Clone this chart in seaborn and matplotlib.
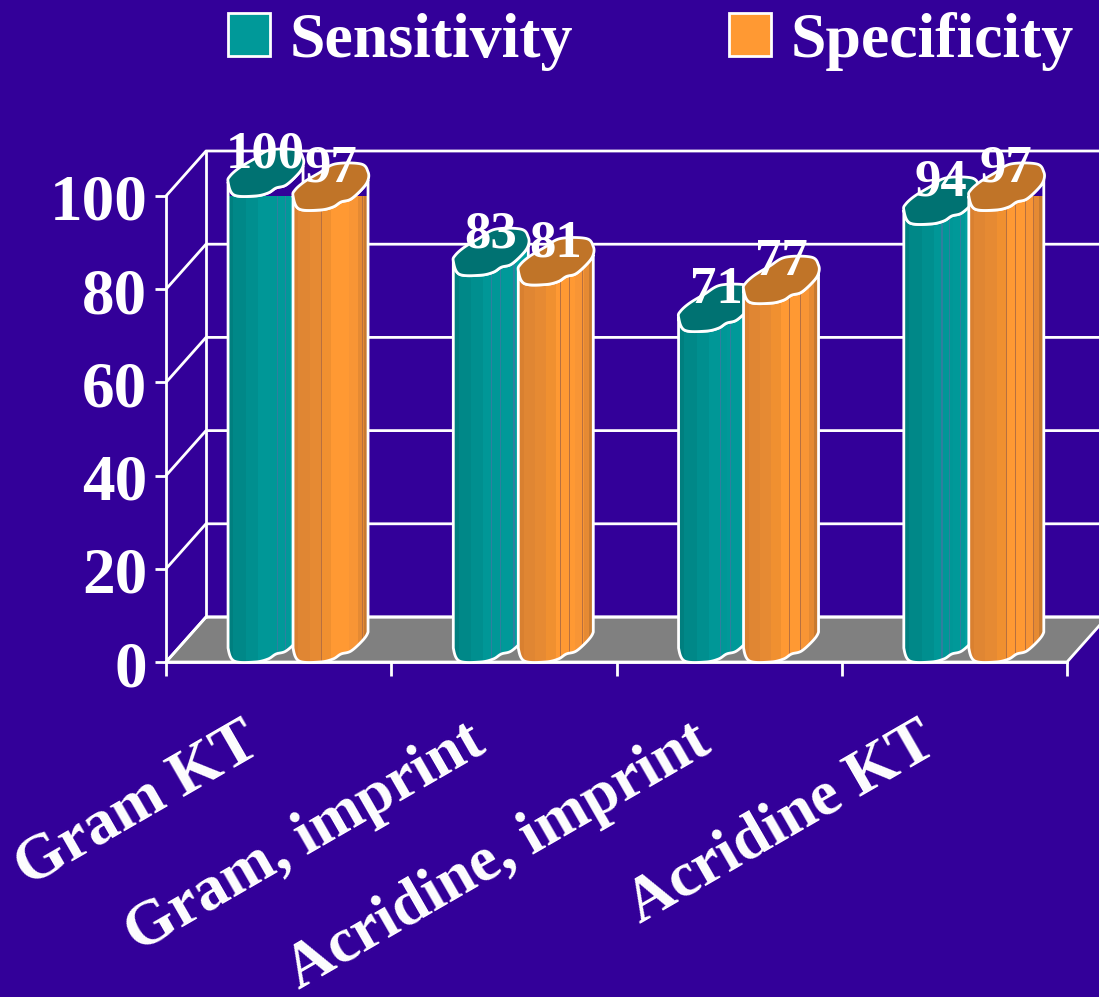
import numpy as np
import pandas as pd
import matplotlib
matplotlib.use("Agg")
import matplotlib.pyplot as plt
import seaborn as sns
from matplotlib.patches import Patch, PathPatch, Polygon, Rectangle
from matplotlib.path import Path
from matplotlib.transforms import Affine2D, IdentityTransform

categories = ["Gram KT", "Gram, imprint", "Acridine, imprint", "Acridine KT"]
sensitivity = [100, 83, 71, 94]
specificity = [97, 81, 77, 97]
y_ticks = [0, 20, 40, 60, 80, 100]

BG = "#330099"
TEAL, ORANGE = "#009999", "#FF9933"
TEAL_CAP, ORANGE_CAP = "#007272", "#C07428"
FLOOR = "#808080"
LW = 2.0

# Vertical shading of each column: (right edge as a width fraction, colour)
teal_bands = [(0.07, "#007F7F"), (0.24, "#008888"), (0.40, "#008F8F"),
              (0.65, "#009797"), (0.82, "#009999"), (1.0, "#00A0A0")]
orange_bands = [(0.07, "#D98030"), (0.22, "#E08633"), (0.37, "#E68A33"),
                (0.50, "#F09030"), (0.75, "#FF9933"), (0.87, "#F89535"),
                (0.94, "#E58A33"), (1.0, "#C87A30")]
teal_seams = [[0.65, 0.76], [0.5, 0.62, 0.8], [0.55, 0.68], [0.5, 0.6, 0.75]]
orange_seams = [[0.37, 0.92], [0.55, 0.68, 0.85], [0.6, 0.75], [0.49, 0.61, 0.75, 0.85]]

# Irregular outline of a column's top, in pixels from its front-left base point
CAP = np.array([(0, 14), (6, 1), (27, 0), (40, 3), (48, 8), (58, 11), (70, 22), (75, 30),
                (75, 38), (68, 46), (42, 46), (26, 37), (11, 28), (2, 20)], float)
FRONT_SEGMENTS = 7
COLUMN_W = 75
SAMPLES = 10


def smooth_closed(points):
    p = points
    n = len(p)
    out = []
    for i in range(n):
        p0, p1, p2, p3 = p[(i - 1) % n], p[i], p[(i + 1) % n], p[(i + 2) % n]
        for t in np.linspace(0, 1, SAMPLES, endpoint=False):
            out.append(0.5 * (2 * p1 + (p2 - p0) * t + (2 * p0 - 5 * p1 + 4 * p2 - p3) * t ** 2
                              + (3 * p1 - p0 - 3 * p2 + p3) * t ** 3))
    return np.array(out)


CAP_SMOOTH = smooth_closed(CAP)
CAP_FRONT = CAP_SMOOTH[:FRONT_SEGMENTS * SAMPLES + 1]

sns.set_theme(style="white")
plt.rcParams["font.family"] = ["Liberation Serif", "DejaVu Serif"]
plt.rcParams["font.weight"] = "bold"

W, H = 1099, 997
fig = plt.figure(figsize=(W / 100, H / 100), dpi=100, facecolor=BG)
ax = fig.add_axes([166 / W, (H - 662) / H, (1067 - 166) / W, 466 / H])
ax.patch.set_visible(False)

df = pd.DataFrame({
    "category": categories * 2,
    "value": sensitivity + specificity,
    "measure": ["Sensitivity"] * 4 + ["Specificity"] * 4,
})
sns.barplot(data=df, x="category", y="value", hue="measure", order=categories,
            hue_order=["Sensitivity", "Specificity"], palette=[TEAL, ORANGE],
            saturation=1, width=0.577, gap=0, legend=False, ax=ax)

ax.set_xlim(-0.564, 3.436)
ax.set_ylim(0, 100)
ax.set_xlabel("")
ax.set_ylabel("")

# Chart frame: back wall and floor sit at a fixed depth behind the front plane
DEPTH = (40, 45)
back = ax.transData + Affine2D().translate(*DEPTH)
x0, x1 = ax.get_xlim()
floor_px = [ax.transData.transform((x0, 0)), ax.transData.transform((x1, 0)),
            back.transform((x1, 0)), back.transform((x0, 0))]
ax.add_patch(Polygon(floor_px, closed=True, transform=IdentityTransform(), facecolor=FLOOR,
                     edgecolor="white", lw=LW, clip_on=False, zorder=0.5))
for v in y_ticks:
    front_pt = ax.transData.transform((x0, v))
    back_l = back.transform((x0, v))
    back_r = back.transform((x1, v))
    ax.add_line(plt.Line2D([front_pt[0], back_l[0], back_r[0]],
                           [front_pt[1], back_l[1], back_r[1]],
                           transform=IdentityTransform(), color="white", lw=LW,
                           clip_on=False, zorder=0.6))
wall_bottom = back.transform((x0, 0))
wall_top = back.transform((x0, 100))
ax.add_line(plt.Line2D([wall_bottom[0], wall_top[0]], [wall_bottom[1], wall_top[1]],
                       transform=IdentityTransform(), color="white", lw=LW,
                       clip_on=False, zorder=0.6))

# Turn each flat bar into a shaded column with an irregular top
px_per_unit = ax.transData.transform((1, 0))[0] - ax.transData.transform((0, 0))[0]
specs = [(TEAL_CAP, teal_bands, teal_seams, "#2F7F9F"),
         (ORANGE_CAP, orange_bands, orange_seams, "#B8703F")]
for h, container in enumerate(ax.containers):
    cap_color, bands, seams, seam_color = specs[h]
    for i, bar in enumerate(container):
        value = bar.get_height()
        z = 3 + 2 * i + h * 0.9
        left, base = ax.transData.transform((bar.get_x(), 0))
        _, top = ax.transData.transform((bar.get_x(), value))
        outline = np.vstack([
            CAP_FRONT + (left, base),
            (CAP_FRONT + (left, top))[::-1],
        ])
        body = PathPatch(Path(np.vstack([outline, outline[:1]]), closed=True),
                         transform=IdentityTransform(), facecolor="none", edgecolor="white",
                         lw=LW, clip_on=False, zorder=z + 0.3)
        ax.add_patch(body)
        bar.set_zorder(z)
        bar.set_clip_path(body)
        edge = 0.0
        for right, color in bands:
            band = Rectangle((left + edge * COLUMN_W, base), (right - edge) * COLUMN_W + 0.5,
                             top - base + 40, transform=IdentityTransform(), facecolor=color,
                             edgecolor="none", zorder=z + 0.1)
            ax.add_patch(band)
            band.set_clip_path(body)
            edge = right
        for frac in seams[i]:
            seam = Rectangle((left + frac * COLUMN_W, base), 1.2, top - base + 40,
                             transform=IdentityTransform(), facecolor=seam_color,
                             edgecolor="none", zorder=z + 0.2)
            ax.add_patch(seam)
            seam.set_clip_path(body)
        cap_ring = CAP_SMOOTH + (left, top)
        ax.add_patch(PathPatch(Path(np.vstack([cap_ring, cap_ring[:1]]), closed=True),
                               transform=IdentityTransform(), facecolor=cap_color, edgecolor="white",
                               lw=LW, clip_on=False, zorder=z + 0.4))
        label_x = bar.get_x() + COLUMN_W / px_per_unit / 2
        ax.annotate(f"{value:.0f}", (label_x, value), xytext=(0, 28 * 0.72), textcoords="offset points",
                    ha="center", va="baseline", color="white", fontsize=38, fontweight="bold",
                    annotation_clip=False, zorder=50)

# Axes furniture
sns.despine(ax=ax)
for s in ("left", "bottom"):
    ax.spines[s].set_color("white")
    ax.spines[s].set_linewidth(LW)
ax.set_yticks(y_ticks)
ax.tick_params(axis="y", left=True, colors="white", labelsize=47, length=8, width=LW, pad=5.5)
ax.set_xticks(range(len(categories)), categories)
ax.set_xticks([x0 + k for k in range(5)], minor=True)
ax.tick_params(axis="x", which="major", bottom=False, colors="white", labelsize=46, pad=0)
ax.tick_params(axis="x", which="minor", bottom=True, length=10, width=LW, color="white")
shift = Affine2D().translate(-52, -42)
for tick in ax.get_xticklabels():
    tick.set_rotation(30)
    tick.set_rotation_mode("anchor")
    tick.set_ha("right")
    tick.set_va("top")
    tick.set_fontweight("bold")
    tick.set_transform(tick.get_transform() + shift)
for tick in ax.get_yticklabels():
    tick.set_fontweight("bold")
    tick.set_transform(tick.get_transform() + Affine2D().translate(0, -1))

handles = [Patch(facecolor=TEAL, edgecolor="white", lw=LW, label="Sensitivity"),
           Patch(facecolor=ORANGE, edgecolor="white", lw=LW, label="Specificity")]
fig.legend(handles=handles, ncol=2, frameon=False, loc="upper left",
           bbox_to_anchor=(170 / W, 1 + 46 / H), labelcolor="white",
           handlelength=0.66, handleheight=0.66, handletextpad=0.31, columnspacing=2.44,
           prop={"family": "Liberation Serif", "weight": "bold", "size": 46})

fig.savefig("out.png", dpi=100, facecolor=BG)
